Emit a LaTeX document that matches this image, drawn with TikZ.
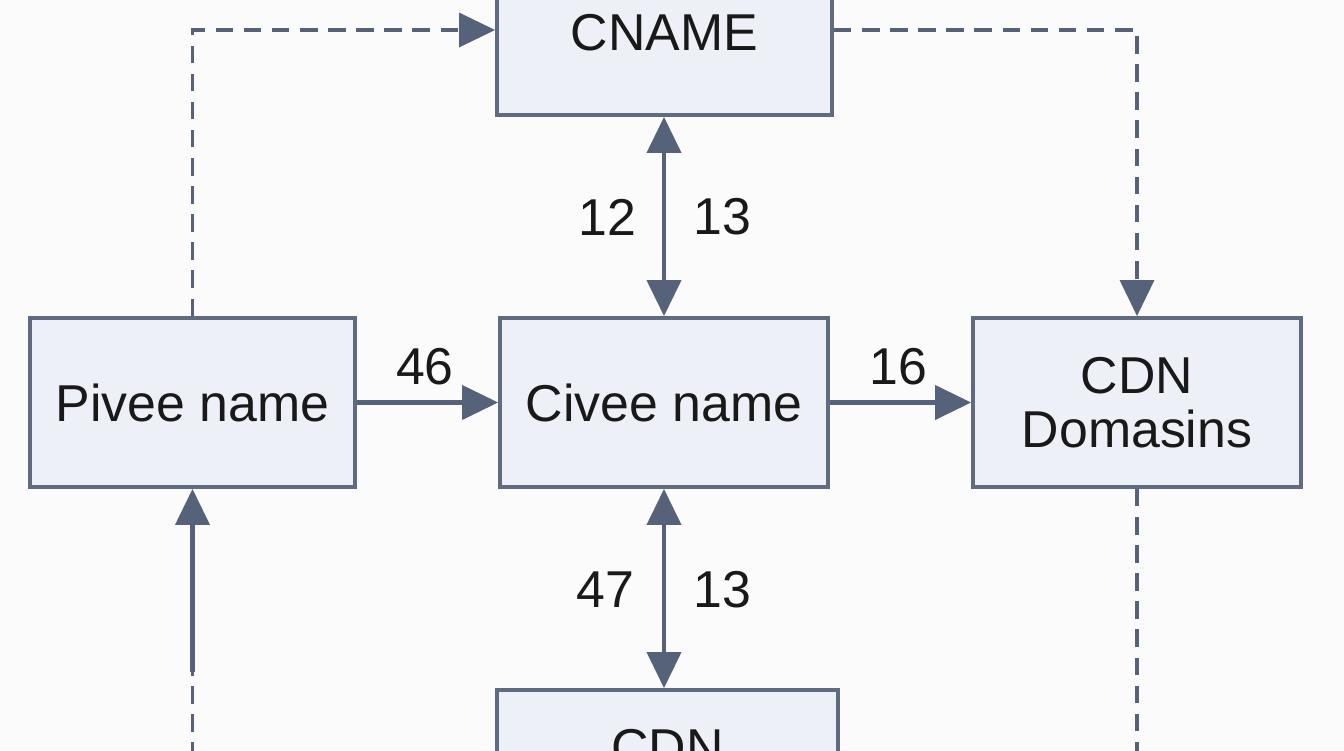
\documentclass[tikz,border=0pt]{standalone}
\usepackage{fontspec}
\setmainfont{Liberation Sans}
\usetikzlibrary{arrows.meta,positioning}
\definecolor{boxfill}{HTML}{EDF0F7}
\definecolor{boxline}{HTML}{5F6B80}
\definecolor{linkcol}{HTML}{56617A}
\definecolor{paper}{HTML}{FBFBFC}
\tikzset{
  box/.style={draw=boxline,fill=boxfill,line width=2.2pt,minimum height=3.38cm,
    align=center,font=\fontsize{29.5}{31}\selectfont,text=black!90},
  link/.style={draw=linkcol,line width=2.3pt,-{Triangle[length=7.2mm,width=6.8mm]}},
  dlink/.style={link,line width=1.9pt,dash pattern=on 10pt off 6pt},
  num/.style={font=\fontsize{29.5}{31}\selectfont,text=black!90}
}
\begin{document}
\begin{tikzpicture}[x=0.02cm,y=-0.02cm]
  \useasboundingbox[fill=paper] (0,0) rectangle (1344,750);
  \node[box,minimum width=6.5cm] (piv) at (192.5,402.5) {Pivee name};
  \node[box,minimum width=6.56cm] (civ) at (664,402.5) {Civee name};
  \node[box,minimum width=6.56cm] (cdnd) at (1137,402.5) {CDN\\Domasins};
  \node[box,minimum width=6.7cm,minimum height=3.28cm] (cname) at (664.5,33) {CNAME};
  \node[box,minimum width=6.82cm,minimum height=2.32cm] (cdnb) at (667.5,748) {CDN};
  \coordinate (lm) at (192.5,672);
  \coordinate (lb) at (192.5,760);
  \coordinate (rb) at (1137,760);
  % solid links
  \draw[link] (piv) -- (civ);
  \draw[link] (civ) -- (cdnd);
  \draw[link,{Triangle[length=7.2mm,width=6.8mm]}-{Triangle[length=7.2mm,width=6.8mm]}] (civ.north |- cname.south) -- (civ.north);
  \draw[link,{Triangle[length=7.2mm,width=6.8mm]}-{Triangle[length=7.2mm,width=6.8mm]}] (civ.south) -- (civ.south |- cdnb.north);
  \draw[link] (lm) -- (piv.south);
  % dashed links
  \draw[dlink] (piv.north) |- (cname.west |- 0,30);
  \draw[dlink] (cname.east |- 0,30) -| (cdnd.north);
  \draw[dlink,-] (lb) -- (lm);
  \draw[dlink,-] (cdnd.south) -- (rb);
  % labels
  \node[num] (n46) at (425,367) {46};
  \node[num] (n16) at (898,367) {16};
  \node[num] (n12) at (607,217) {12};
  \node[num] (n13a) at (722,217) {13};
  \node[num] (n47) at (605,590) {47};
  \node[num] (n13b) at (722,590) {13};
\end{tikzpicture}
\end{document}
